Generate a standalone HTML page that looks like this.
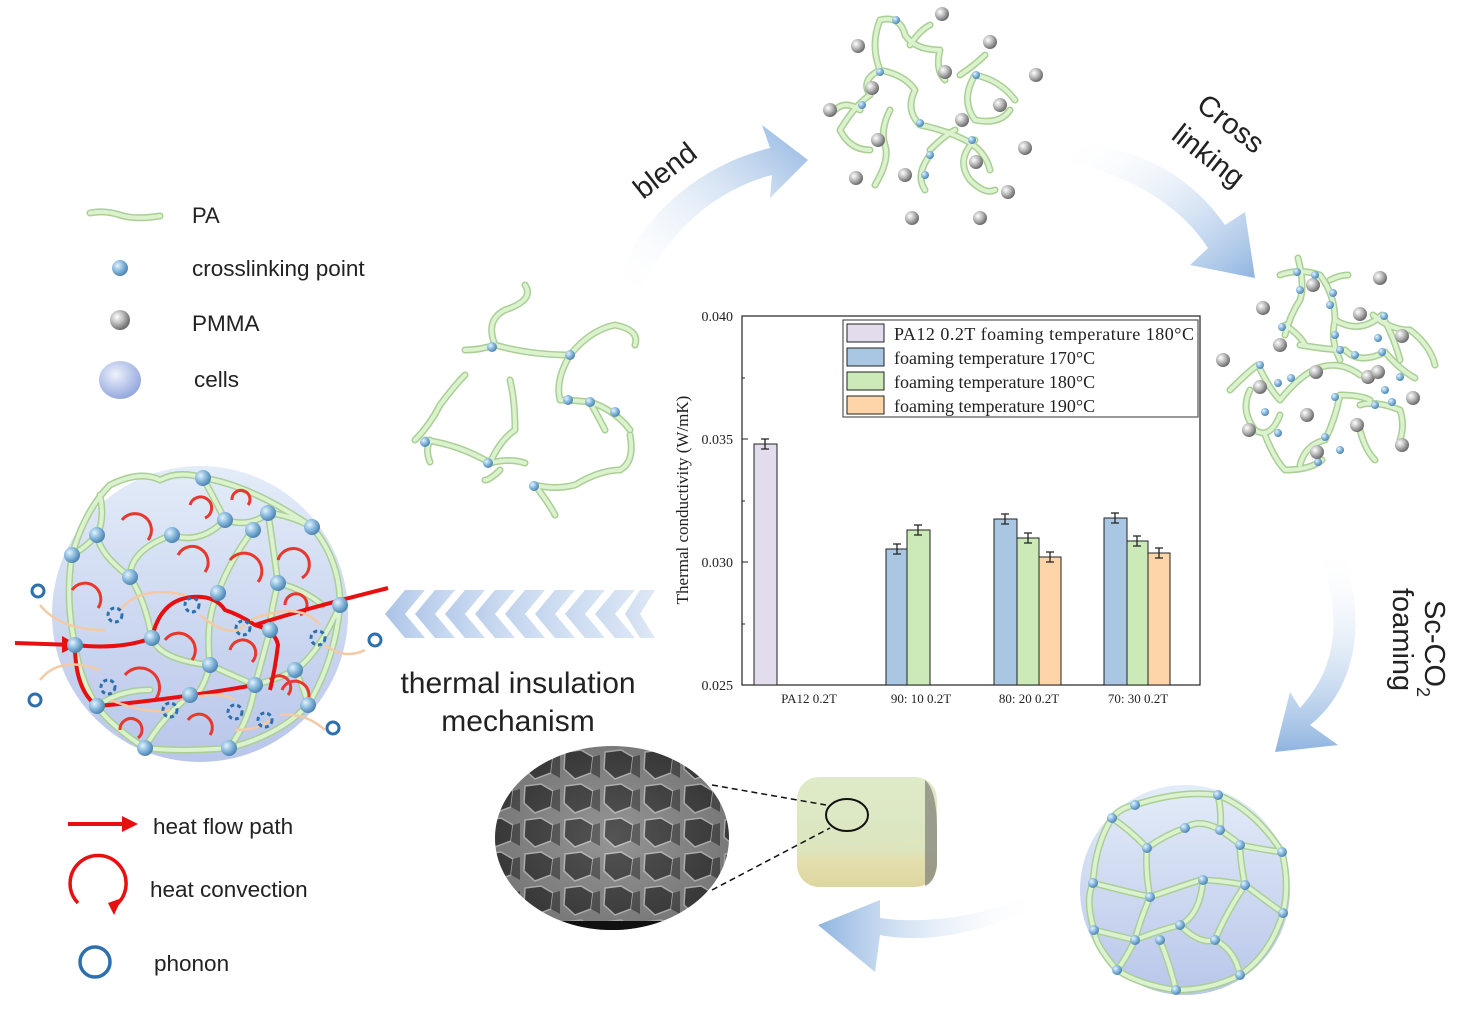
<!DOCTYPE html>
<html><head><meta charset="utf-8"><style>
html,body{margin:0;padding:0;background:#fff;}
svg{display:block;}
text{font-family:"Liberation Sans",sans-serif;}
.s1{fill:none;stroke:#a9cf95;stroke-width:7;stroke-linecap:round;stroke-linejoin:round}
.s2{fill:none;stroke:#dcf2cf;stroke-width:4;stroke-linecap:round;stroke-linejoin:round}
.ser{font-family:"Liberation Serif",serif;}
</style></head><body>
<svg width="1466" height="1010" viewBox="0 0 1466 1010" xmlns="http://www.w3.org/2000/svg">
<defs>
<radialGradient id="bb" cx="35%" cy="35%" r="65%"><stop offset="0" stop-color="#e6f3fc"/><stop offset="0.5" stop-color="#8dbde0"/><stop offset="1" stop-color="#4f86b4"/></radialGradient>
<radialGradient id="gb" cx="35%" cy="35%" r="65%"><stop offset="0" stop-color="#ffffff"/><stop offset="0.5" stop-color="#bcbcbc"/><stop offset="1" stop-color="#6e6e6e"/></radialGradient>
<linearGradient id="cell" x1="0" y1="0" x2="0" y2="1"><stop offset="0" stop-color="#e3ecf8"/><stop offset="1" stop-color="#b9c6ea"/></linearGradient>
<radialGradient id="cellb" cx="40%" cy="35%" r="70%"><stop offset="0" stop-color="#eef2fb"/><stop offset="1" stop-color="#8ea2dc"/></radialGradient>
<linearGradient id="a1" x1="0" y1="1" x2="1" y2="0"><stop offset="0" stop-color="#fff" stop-opacity="0"/><stop offset="1" stop-color="#8fb4e0"/></linearGradient>
<linearGradient id="a2" x1="0" y1="0" x2="1" y2="1"><stop offset="0" stop-color="#fff" stop-opacity="0"/><stop offset="1" stop-color="#8fb4e0"/></linearGradient>
<linearGradient id="a3" x1="0" y1="0" x2="0" y2="1"><stop offset="0" stop-color="#fff" stop-opacity="0"/><stop offset="1" stop-color="#8fb4e0"/></linearGradient>
<linearGradient id="a4" x1="1" y1="0" x2="0" y2="0"><stop offset="0" stop-color="#fff" stop-opacity="0"/><stop offset="1" stop-color="#8fb4e0"/></linearGradient>
<linearGradient id="chev" x1="1" y1="0" x2="0" y2="0"><stop offset="0" stop-color="#c7d8f0"/><stop offset="1" stop-color="#a9c2e6"/></linearGradient>
<radialGradient id="sem" cx="50%" cy="50%" r="55%"><stop offset="0" stop-color="#888"/><stop offset="1" stop-color="#222"/></radialGradient>
<linearGradient id="samp" x1="0" y1="0" x2="0" y2="1"><stop offset="0" stop-color="#dfeac8"/><stop offset="0.65" stop-color="#dbe6c0"/><stop offset="0.75" stop-color="#e4dfae"/><stop offset="1" stop-color="#ddd6a0"/></linearGradient>
<pattern id="cells" width="40" height="34" patternUnits="userSpaceOnUse"><rect width="40" height="34" fill="#9a9a9a"/><polygon points="5,4 21,2 33,9 31,25 15,31 4,21" fill="#3e3e3e" stroke="#d8d8d8" stroke-width="1.5"/><polygon points="33,9 40,7 40,30 31,25" fill="#555"/></pattern>
<path id="p1" d="M525,285 Q535,300 505,310 Q485,320 495,345 Q480,350 465,350 M495,345 Q530,355 570,355 Q590,330 615,325 Q640,330 635,345 M570,355 Q555,380 560,400 Q570,400 590,402 Q615,410 630,430 M415,440 Q430,425 440,405 Q455,385 465,375 M425,440 Q460,445 490,463 Q510,458 525,463 M490,463 Q500,440 515,430 Q515,400 510,380 M535,485 Q555,490 575,485 Q600,470 620,470 Q635,462 630,435 M535,485 Q550,505 555,515 M430,440 Q425,450 430,462 M590,402 Q600,420 605,430 M500,470 Q490,480 485,480"/>
<path id="p2" d="M880,20 Q900,15 905,35 Q915,50 940,50 Q935,70 945,80 M880,20 Q870,45 880,70 Q860,80 870,95 Q855,105 840,130 Q850,150 870,150 M880,70 Q905,75 915,90 Q905,110 920,125 Q945,130 965,140 Q985,150 990,170 M910,45 Q920,30 930,25 M960,75 Q975,65 985,55 M975,75 Q960,100 975,120 Q1000,125 1010,110 M975,75 Q1000,80 1015,100 M975,140 Q955,160 970,180 Q985,195 995,190 M930,155 Q915,175 925,190 M890,110 Q880,130 885,145 Q890,160 875,185 M860,110 Q845,100 835,110 M930,150 Q945,135 955,130"/>
<path id="p3" d="M1298,258 Q1305,285 1300,300 Q1290,315 1285,335 M1280,275 Q1300,268 1320,275 Q1335,295 1335,320 Q1330,340 1340,360 M1335,320 Q1360,335 1382,315 Q1395,340 1400,360 M1330,280 Q1340,275 1348,275 M1285,325 Q1300,335 1305,345 M1300,345 Q1330,350 1345,350 Q1360,365 1385,352 Q1400,370 1415,378 M1230,390 Q1250,370 1258,365 Q1270,390 1280,400 Q1300,375 1318,368 Q1340,360 1360,375 M1250,390 Q1240,410 1255,430 Q1270,440 1280,415 M1340,395 Q1335,420 1325,440 Q1305,445 1300,465 M1360,405 Q1375,400 1400,410 Q1405,425 1400,440 M1265,435 Q1275,460 1285,470 Q1310,470 1322,460 M1340,395 Q1360,395 1370,400 M1373,315 Q1390,330 1410,330 Q1430,345 1435,365 M1360,430 Q1365,450 1375,460"/>
<path id="p4" d="M1135,805 Q1180,790 1218,795 Q1255,810 1282,852 Q1290,885 1283,913 Q1270,955 1240,975 Q1210,990 1176,990 Q1140,985 1117,970 Q1095,945 1094,930 Q1085,900 1093,883 Q1095,845 1112,818 Q1120,808 1135,805 M1112,818 Q1130,830 1147,848 Q1165,835 1185,828 Q1200,818 1220,830 Q1235,840 1240,845 Q1265,850 1282,852 M1218,795 Q1222,815 1220,830 M1147,848 Q1145,870 1150,897 Q1170,890 1200,880 Q1220,880 1245,885 Q1265,900 1283,913 M1093,883 Q1120,890 1150,897 Q1140,920 1135,940 Q1160,930 1180,925 Q1200,915 1203,880 M1245,885 Q1240,860 1240,845 M1094,930 Q1115,935 1135,940 Q1125,960 1117,970 M1180,925 Q1200,945 1215,940 Q1235,950 1240,975 M1215,940 Q1225,915 1245,885 M1160,940 Q1170,965 1176,990"/>
<path id="p5" d="M72,555 Q85,510 110,485 Q140,470 160,480 Q180,470 203,478 Q250,485 312,527 Q340,560 340,605 Q335,660 308,705 Q280,735 229,748 Q180,752 145,748 Q110,725 97,706 Q80,680 75,645 Q65,600 72,555 M203,478 Q215,500 225,520 Q250,528 268,513 Q290,515 312,527 M97,535 Q100,555 130,577 Q145,600 152,638 Q160,660 210,665 Q225,672 255,685 Q280,678 295,670 Q318,655 340,605 M72,555 Q85,548 97,535 Q105,520 100,495 M225,520 Q200,545 172,535 Q130,550 130,577 M253,530 Q230,560 218,593 Q205,620 210,665 M268,513 Q275,560 278,583 Q305,590 322,605 M278,583 Q270,615 270,630 Q262,660 255,685 M210,665 Q200,700 190,695 Q160,720 145,748 M255,685 Q250,720 229,748 M295,670 Q305,690 308,705 M97,706 Q120,690 150,690"/>
<clipPath id="semclip"><ellipse cx="612" cy="838" rx="117" ry="92"/></clipPath>
</defs>

<path d="M90,213 Q105,210 120,215 T160,216" class="s1"/><path d="M90,213 Q105,210 120,215 T160,216" class="s2"/>
<text x="192" y="223" font-size="22" fill="#222">PA</text>
<circle cx="120" cy="268" r="8" fill="url(#bb)"/>
<text x="192" y="276" font-size="22.5" fill="#222">crosslinking point</text>
<circle cx="120" cy="320" r="10" fill="url(#gb)"/>
<text x="192" y="331" font-size="22.5" fill="#222">PMMA</text>
<ellipse cx="120" cy="380" rx="21" ry="19" fill="url(#cellb)"/>
<text x="194" y="387" font-size="22.5" fill="#222">cells</text>

<path d="M615,285 C640,215 700,165 770,148 L762,125 L808,160 L770,198 L772,175 C715,190 670,230 640,290 Z" fill="url(#a1)"/>
<path d="M1068,140 C1140,148 1190,175 1225,225 L1245,212 L1255,278 L1190,265 L1208,248 C1180,205 1130,175 1068,162 Z" fill="url(#a2)"/>
<path d="M1340,545 C1370,620 1355,690 1310,725 L1338,745 L1275,752 L1290,692 L1300,708 C1335,670 1345,620 1318,550 Z" fill="url(#a3)"/>
<path d="M1040,905 C990,930 930,945 880,935 L875,972 L818,925 L880,900 L880,918 C930,925 990,915 1040,890 Z" fill="url(#a4)"/>
<text x="0" y="0" font-size="29" fill="#222" transform="translate(643,200) rotate(-38)">blend</text>
<text x="0" y="0" font-size="29" fill="#222" transform="translate(1195,108) rotate(38)">Cross</text>
<text x="0" y="0" font-size="29" fill="#222" transform="translate(1170,138) rotate(38)">linking</text>
<text x="0" y="0" font-size="29" fill="#222" transform="translate(1425,600) rotate(90)">Sc-CO<tspan font-size="18" dy="8">2</tspan></text>
<text x="0" y="0" font-size="29" fill="#222" transform="translate(1393,588) rotate(90)">foaming</text>

<g fill="url(#chev)">
<polygon points="405,590 425,590 405,614 425,638 405,638 385,614"/>
<polygon points="435,590 455,590 435,614 455,638 435,638 415,614" opacity="0.9"/>
<polygon points="465,590 485,590 465,614 485,638 465,638 445,614" opacity="0.85"/>
<polygon points="495,590 515,590 495,614 515,638 495,638 475,614" opacity="0.8"/>
<polygon points="525,590 545,590 525,614 545,638 525,638 505,614" opacity="0.75"/>
<polygon points="555,590 575,590 555,614 575,638 555,638 535,614" opacity="0.7"/>
<polygon points="585,590 605,590 585,614 605,638 585,638 565,614" opacity="0.65"/>
<polygon points="615,590 635,590 615,614 635,638 615,638 595,614" opacity="0.6"/>
<polygon points="640,590 655,590 640,614 655,638 640,638 625,614" opacity="0.55"/>
</g>
<text x="518" y="693" font-size="30" fill="#222" text-anchor="middle">thermal insulation</text>
<text x="518" y="731" font-size="30" fill="#222" text-anchor="middle">mechanism</text>

<use href="#p1" class="s1"/><use href="#p1" class="s2"/>
<g fill="url(#bb)"><circle cx="492" cy="347" r="5"/><circle cx="570" cy="355" r="5"/><circle cx="568" cy="400" r="5"/><circle cx="590" cy="402" r="5"/><circle cx="615" cy="412" r="5"/><circle cx="425" cy="442" r="5"/><circle cx="488" cy="463" r="5"/><circle cx="534" cy="486" r="5"/></g>

<use href="#p2" class="s1"/><use href="#p2" class="s2"/>
<g fill="url(#bb)"><circle cx="896" cy="20" r="4"/><circle cx="880" cy="72" r="4"/><circle cx="976" cy="75" r="4"/><circle cx="920" cy="123" r="4"/><circle cx="972" cy="140" r="4"/><circle cx="930" cy="155" r="4"/><circle cx="925" cy="175" r="4"/><circle cx="862" cy="105" r="4"/></g>
<g fill="url(#gb)"><circle cx="942" cy="14" r="7"/><circle cx="858" cy="46" r="7"/><circle cx="990" cy="42" r="7"/><circle cx="1036" cy="75" r="7"/><circle cx="945" cy="72" r="7"/><circle cx="872" cy="88" r="7"/><circle cx="1000" cy="105" r="7"/><circle cx="830" cy="110" r="7"/><circle cx="962" cy="120" r="7"/><circle cx="878" cy="140" r="7"/><circle cx="1025" cy="148" r="7"/><circle cx="976" cy="162" r="7"/><circle cx="905" cy="175" r="7"/><circle cx="856" cy="178" r="7"/><circle cx="1008" cy="192" r="7"/><circle cx="912" cy="218" r="7"/><circle cx="980" cy="218" r="7"/></g>

<use href="#p3" class="s1"/><use href="#p3" class="s2"/>
<g fill="url(#bb)"><circle cx="1297" cy="272" r="4"/><circle cx="1315" cy="275" r="4"/><circle cx="1300" cy="290" r="4"/><circle cx="1333" cy="293" r="4"/><circle cx="1330" cy="305" r="4"/><circle cx="1282" cy="327" r="4"/><circle cx="1335" cy="335" r="4"/><circle cx="1340" cy="350" r="4"/><circle cx="1355" cy="355" r="4"/><circle cx="1382" cy="352" r="4"/><circle cx="1384" cy="316" r="4"/><circle cx="1378" cy="338" r="4"/><circle cx="1260" cy="365" r="4"/><circle cx="1278" cy="383" r="4"/><circle cx="1291" cy="378" r="4"/><circle cx="1335" cy="397" r="4"/><circle cx="1375" cy="405" r="4"/><circle cx="1392" cy="402" r="4"/><circle cx="1265" cy="412" r="4"/><circle cx="1278" cy="433" r="4"/><circle cx="1325" cy="437" r="4"/><circle cx="1340" cy="450" r="4"/><circle cx="1318" cy="462" r="4"/><circle cx="1385" cy="390" r="4"/><circle cx="1400" cy="377" r="4"/></g>
<g fill="url(#gb)"><circle cx="1380" cy="278" r="7"/><circle cx="1263" cy="308" r="7"/><circle cx="1313" cy="285" r="7"/><circle cx="1360" cy="314" r="7"/><circle cx="1280" cy="345" r="7"/><circle cx="1402" cy="336" r="7"/><circle cx="1223" cy="360" r="7"/><circle cx="1316" cy="372" r="7"/><circle cx="1368" cy="377" r="7"/><circle cx="1260" cy="387" r="7"/><circle cx="1413" cy="398" r="7"/><circle cx="1307" cy="415" r="7"/><circle cx="1357" cy="425" r="7"/><circle cx="1249" cy="430" r="7"/><circle cx="1317" cy="452" r="7"/><circle cx="1402" cy="445" r="7"/><circle cx="1378" cy="372" r="7"/></g>

<circle cx="1185" cy="890" r="105" fill="url(#cell)"/>
<use href="#p4" class="s1"/><use href="#p4" class="s2"/>
<g fill="url(#bb)"><circle cx="1135" cy="805" r="5"/><circle cx="1218" cy="795" r="5"/><circle cx="1112" cy="818" r="5"/><circle cx="1147" cy="848" r="5"/><circle cx="1185" cy="828" r="5"/><circle cx="1220" cy="830" r="5"/><circle cx="1240" cy="845" r="5"/><circle cx="1282" cy="852" r="5"/><circle cx="1093" cy="883" r="5"/><circle cx="1150" cy="897" r="5"/><circle cx="1203" cy="880" r="5"/><circle cx="1245" cy="885" r="5"/><circle cx="1283" cy="913" r="5"/><circle cx="1094" cy="930" r="5"/><circle cx="1135" cy="940" r="5"/><circle cx="1160" cy="940" r="5"/><circle cx="1180" cy="925" r="5"/><circle cx="1215" cy="940" r="5"/><circle cx="1240" cy="975" r="5"/><circle cx="1117" cy="970" r="5"/><circle cx="1176" cy="990" r="5"/></g>

<!-- sample -->
<rect x="797" y="777" width="140" height="110" rx="22" fill="url(#samp)"/>
<path d="M925,780 Q937,790 937,830 L937,865 Q935,882 925,886 L925,780 Z" fill="#8a8a80" opacity="0.8"/>
<path d="M799,845 Q860,852 925,840" fill="none" stroke="#e8e2b4" stroke-width="1"/>
<ellipse cx="847" cy="815" rx="21" ry="16" fill="none" stroke="#111" stroke-width="2"/>
<line x1="712" y1="785" x2="826" y2="805" stroke="#111" stroke-width="1.5" stroke-dasharray="6,4"/>
<line x1="712" y1="890" x2="830" y2="828" stroke="#111" stroke-width="1.5" stroke-dasharray="6,4"/>
<!-- SEM -->
<g clip-path="url(#semclip)">
<rect x="495" y="746" width="234" height="184" fill="url(#cells)"/>
<rect x="495" y="746" width="234" height="184" fill="url(#sem)" opacity="0.3"/>
<rect x="560" y="921" width="110" height="12" fill="#111"/>
</g>

<circle cx="200" cy="614" r="148" fill="url(#cell)"/>
<use href="#p5" class="s1"/><use href="#p5" class="s2"/>
<g fill="none" stroke="#e8382d" stroke-width="3">
<path d="M122,520 A15,15 0 1 1 148,540"/><path d="M190,505 A11,11 0 1 1 205,518"/><path d="M232,500 A9,9 0 1 1 248,505"/>
<path d="M178,555 A16,16 0 1 1 205,572"/><path d="M230,560 A17,17 0 1 1 258,582"/><path d="M278,560 A16,16 0 1 1 302,578"/>
<path d="M72,590 A15,15 0 1 1 98,608"/><path d="M165,640 A16,16 0 1 1 192,660"/><path d="M230,650 A13,13 0 1 1 252,662"/>
<path d="M285,605 A11,11 0 1 1 300,615"/><path d="M125,675 A18,18 0 1 1 155,700"/><path d="M282,690 A14,14 0 1 1 305,705"/>
<path d="M120,730 A11,11 0 1 1 138,738"/><path d="M188,720 A13,13 0 1 1 210,735"/><path d="M270,680 A11,11 0 1 1 288,695"/>
</g>
<g fill="none" stroke="#e70f0f" stroke-width="4">
<path d="M15,643 L75,645 Q120,650 152,638"/>
<path d="M152,638 Q160,600 192,597 Q215,595 225,610 Q240,615 255,625 Q275,630 278,645 Q275,670 270,690"/>
<path d="M255,625 Q300,610 388,588"/>
<path d="M75,645 Q75,690 97,706 Q170,700 255,685"/>
</g>
<polygon points="62,636 78,645 62,653" fill="#e70f0f"/>
<g fill="none" stroke="#f4c9a6" stroke-width="2.5">
<path d="M40,605 Q60,630 105,630"/><path d="M120,610 Q140,585 185,595"/><path d="M200,615 Q230,640 245,625"/><path d="M250,620 Q300,600 320,625"/><path d="M325,645 Q345,660 365,650"/><path d="M40,680 Q60,655 100,670"/><path d="M110,700 Q150,715 170,710"/><path d="M180,700 Q220,690 235,700"/><path d="M235,730 Q260,730 270,720"/><path d="M280,715 Q305,712 325,730"/></g>
<g fill="none" stroke="#2e6fad" stroke-width="3">
<circle cx="38" cy="591" r="6"/><circle cx="375" cy="640" r="6"/><circle cx="35" cy="700" r="6"/><circle cx="333" cy="728" r="6"/>
</g>
<g fill="none" stroke="#2e6fad" stroke-width="3" stroke-dasharray="4,3">
<circle cx="115" cy="615" r="7"/><circle cx="192" cy="605" r="7"/><circle cx="243" cy="628" r="7"/><circle cx="318" cy="638" r="7"/><circle cx="108" cy="687" r="7"/><circle cx="170" cy="710" r="7"/><circle cx="235" cy="712" r="7"/><circle cx="265" cy="720" r="7"/></g>
<g fill="url(#bb)">
<circle cx="203" cy="478" r="8"/><circle cx="225" cy="520" r="8"/><circle cx="253" cy="530" r="8"/><circle cx="268" cy="513" r="8"/><circle cx="312" cy="527" r="8"/><circle cx="172" cy="535" r="8"/><circle cx="97" cy="535" r="8"/><circle cx="72" cy="555" r="8"/><circle cx="130" cy="577" r="8"/><circle cx="278" cy="583" r="8"/><circle cx="218" cy="593" r="8"/><circle cx="340" cy="605" r="8"/><circle cx="270" cy="630" r="8"/><circle cx="152" cy="638" r="8"/><circle cx="75" cy="645" r="8"/><circle cx="210" cy="665" r="8"/><circle cx="295" cy="670" r="8"/><circle cx="255" cy="685" r="8"/><circle cx="308" cy="705" r="8"/><circle cx="190" cy="695" r="8"/><circle cx="97" cy="706" r="8"/><circle cx="145" cy="748" r="8"/><circle cx="229" cy="748" r="8"/></g>

<line x1="68" y1="824" x2="125" y2="824" stroke="#e70f0f" stroke-width="4"/>
<polygon points="122,816 138,824 122,832" fill="#e70f0f"/>
<text x="153" y="834" font-size="22.5" fill="#222">heat flow path</text>
<path d="M78,903 A28,28 0 1 1 116,905" fill="none" stroke="#e70f0f" stroke-width="3.5"/>
<polygon points="108,903 122,898 114,915" fill="#e70f0f"/>
<text x="150" y="897" font-size="22.5" fill="#222">heat convection</text>
<circle cx="95" cy="962" r="15" fill="none" stroke="#2e6fad" stroke-width="3.5"/>
<text x="154" y="971" font-size="22.5" fill="#222">phonon</text>

<rect x="742" y="316" width="458" height="369" fill="#fff" stroke="#222" stroke-width="1.2"/>
<g stroke="#222" stroke-width="1">
<line x1="742" y1="439" x2="748" y2="439"/><line x1="742" y1="562" x2="748" y2="562"/>
<line x1="742" y1="378" x2="745" y2="378"/><line x1="742" y1="501" x2="745" y2="501"/><line x1="742" y1="624" x2="745" y2="624"/>
</g>
<g font-size="14" fill="#222" text-anchor="end">
<text x="733" y="321" class="ser">0.040</text><text x="733" y="444" class="ser">0.035</text><text x="733" y="567" class="ser">0.030</text><text x="733" y="690" class="ser">0.025</text></g>
<text x="0" y="0" class="ser" font-size="17" fill="#222" text-anchor="middle" transform="translate(688,500) rotate(-90)">Thermal conductivity (W/mK)</text>
<g stroke="#222" stroke-width="1">
<rect x="754" y="444" width="23" height="241" fill="#e3dcec"/>
<rect x="886" y="549" width="21" height="136" fill="#a9c7e3"/>
<rect x="907" y="530" width="23" height="155" fill="#cbeab8"/>
<rect x="994" y="519" width="23" height="166" fill="#a9c7e3"/>
<rect x="1017" y="538" width="22" height="147" fill="#cbeab8"/>
<rect x="1039" y="557" width="22" height="128" fill="#fdd5a8"/>
<rect x="1104" y="518" width="23" height="167" fill="#a9c7e3"/>
<rect x="1127" y="541" width="21" height="144" fill="#cbeab8"/>
<rect x="1148" y="553" width="22" height="132" fill="#fdd5a8"/>
</g>
<g stroke="#222" stroke-width="1.3" fill="none">
<path d="M765,439V449M761,439H769M761,449H769"/>
<path d="M897,544V554M893,544H901M893,554H901"/>
<path d="M918,525V535M914,525H922M914,535H922"/>
<path d="M1005,514V524M1001,514H1009M1001,524H1009"/>
<path d="M1028,533V543M1024,533H1032M1024,543H1032"/>
<path d="M1050,552V562M1046,552H1054M1046,562H1054"/>
<path d="M1115,513V523M1111,513H1119M1111,523H1119"/>
<path d="M1137,536V546M1133,536H1141M1133,546H1141"/>
<path d="M1159,548V558M1155,548H1163M1155,558H1163"/>
</g>
<g font-size="13" fill="#222" text-anchor="middle">
<text x="809" y="703" class="ser">PA12 0.2T</text><text x="921" y="703" class="ser">90:  10 0.2T</text><text x="1029" y="703" class="ser">80:  20 0.2T</text><text x="1138" y="703" class="ser">70:  30 0.2T</text></g>
<rect x="843" y="320" width="355" height="97" fill="#fff" stroke="#555" stroke-width="1.2"/>
<g stroke="#222" stroke-width="1">
<rect x="847" y="324" width="37" height="18" fill="#e3dcec"/>
<rect x="847" y="348" width="37" height="18" fill="#a9c7e3"/>
<rect x="847" y="372" width="37" height="18" fill="#cbeab8"/>
<rect x="847" y="396" width="37" height="18" fill="#fdd5a8"/>
</g>
<g font-size="18" fill="#222">
<text x="894" y="340" class="ser" textLength="300">PA12 0.2T foaming temperature 180°C</text>
<text x="894" y="364" class="ser">foaming temperature 170°C</text>
<text x="894" y="388" class="ser">foaming temperature 180°C</text>
<text x="894" y="412" class="ser">foaming temperature 190°C</text>
</g>
</svg>
</body></html>
